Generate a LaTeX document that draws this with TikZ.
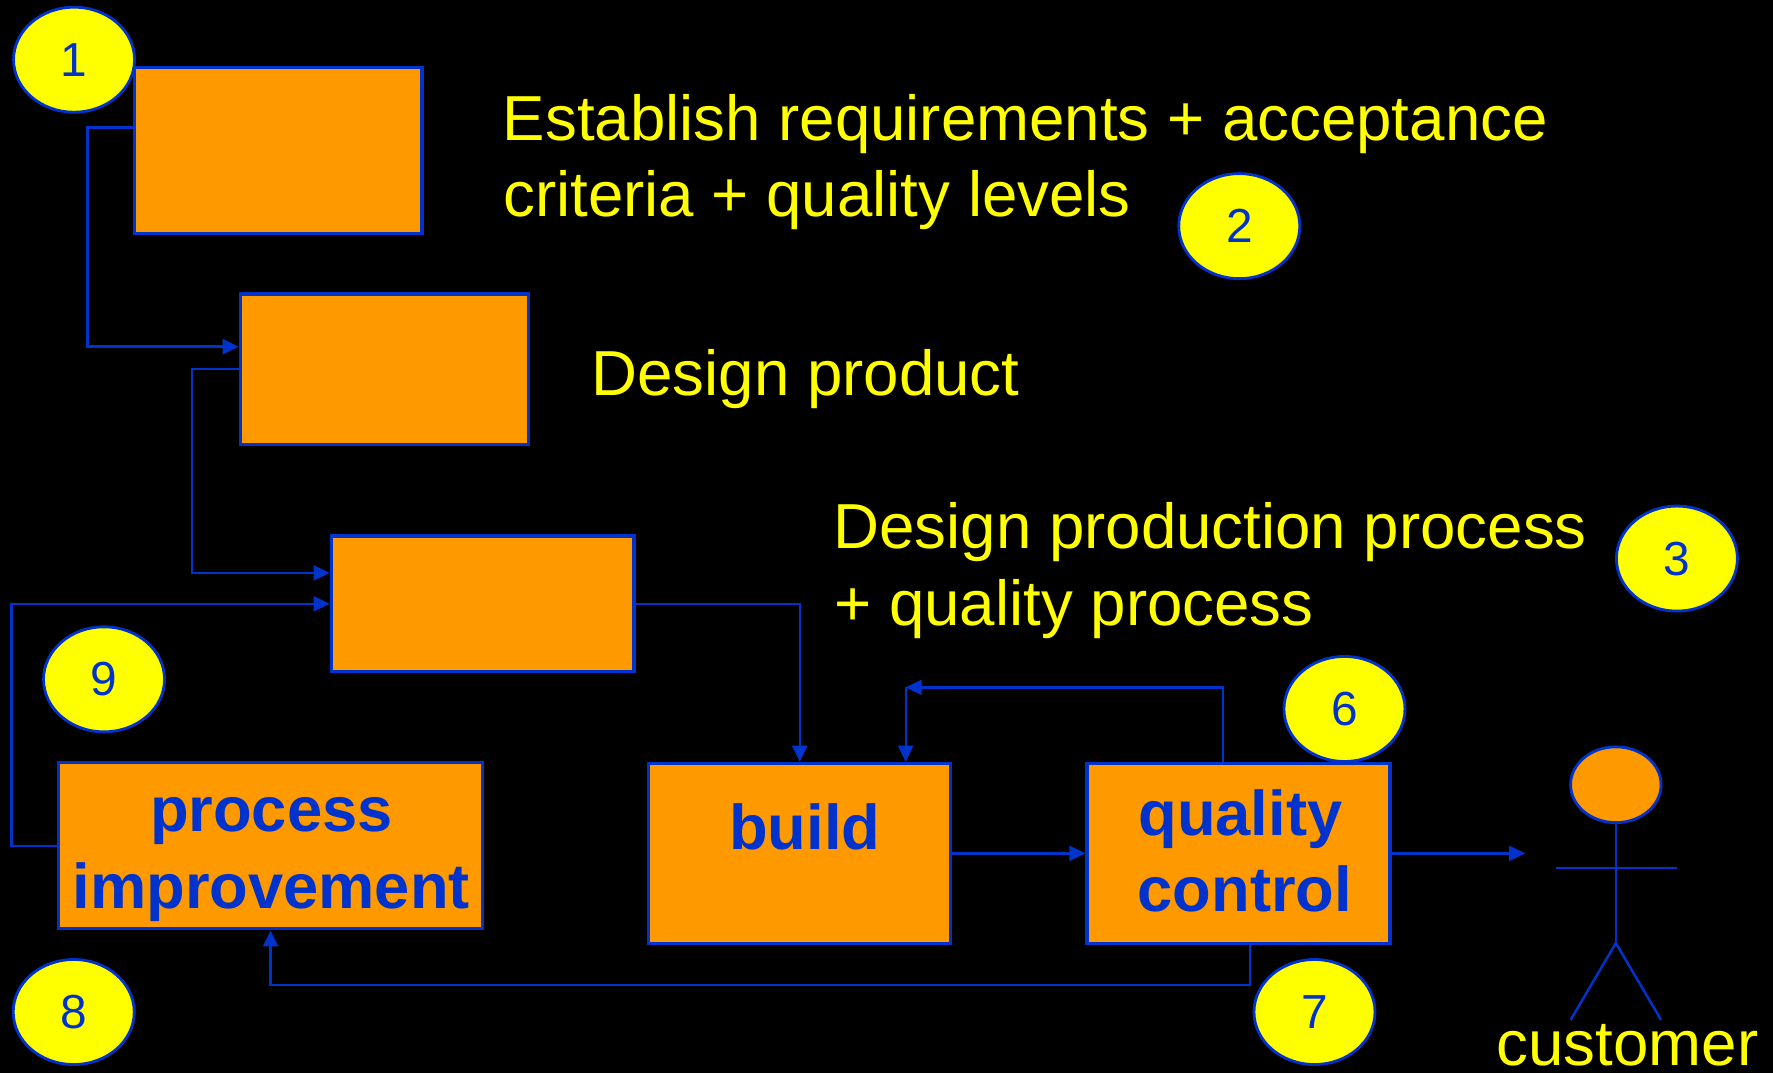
\documentclass[tikz,border=0pt]{standalone}
\usepackage{fontspec}
\setmainfont{Liberation Sans}
\usetikzlibrary{arrows.meta,shapes.geometric}
\definecolor{qorange}{HTML}{FF9900}
\definecolor{qblue}{HTML}{0033CC}
\definecolor{qyellow}{HTML}{FFFF00}
\tikzset{
	stepbox/.style={rectangle, draw=qblue, line width=0.9pt, fill=qorange, inner sep=0},
	flow/.style={draw=qblue, line width=0.7pt, -{Triangle[length=1.6mm,width=1.5mm]}},
	stick/.style={draw=qblue, line width=0.7pt},
	num/.style={ellipse, draw=qblue, line width=0.8pt, fill=qyellow, inner sep=0, minimum width=1.21cm, minimum height=1.05cm, text=qblue, font=\fontsize{13.6}{16}\selectfont},
	caption/.style={anchor=base west, inner sep=0, text=qyellow, font=\fontsize{18.1}{21.7}\selectfont},
	boxlabel/.style={anchor=base, inner sep=0, text=qblue, font=\fontsize{18}{21.6}\selectfont\bfseries}
}

\begin{document}
\begin{tikzpicture}[x=0.011307cm, y=-0.011307cm]
			%%%%% BACKGROUND %%%%%
			\fill[black] (0,0) rectangle (1568,949);
			\useasboundingbox (0,0) rectangle (1568,949);
			
			%%%%% BOXES %%%%%
			\node[stepbox, minimum width=2.873cm, minimum height=1.66cm] (reqbox) at (246.2,132.9) {};
			\node[stepbox, minimum width=2.878cm, minimum height=1.504cm] (designbox) at (339.8,326.5) {};
			\node[stepbox, minimum width=3.028cm, minimum height=1.357cm] (procbox) at (426.8,534) {};
			\node[stepbox, minimum width=4.245cm, minimum height=1.662cm] (pibox) at (239.3,748) {};
			\node[stepbox, minimum width=3.019cm, minimum height=1.801cm] (buildbox) at (707.3,754.7) {};
			\node[stepbox, minimum width=3.030cm, minimum height=1.798cm] (qcbox) at (1095.3,754.7) {};
			
			\node[boxlabel] (pi1) at (240,735.5) {process};
			\node[boxlabel] (pi2) at (239.8,803.4) {improvement};
			\node[boxlabel] (bl) at (711.8,751.7) {build};
			\node[boxlabel] (qc1) at (1097,738.5) {quality};
			\node[boxlabel] (qc2) at (1101,806.3) {control};
			
			%%%%% CAPTIONS %%%%%
			\node[caption] (req1) at (444,124) {Establish requirements + acceptance};
			\node[caption] (req2) at (444.4,191.6) {criteria + quality levels};
			\node[caption] (dsg) at (522.6,350) {Design product};
			\node[caption] (prod1) at (736.6,484.8) {Design production process};
			\node[caption] (prod2) at (737.3,552.8) {+ quality process};
			\node[caption] (cust) at (1323,942) {customer};
			
			%%%%% ARROWS %%%%%
			\coordinate (loopback) at (801,607.9);
			\coordinate (custarrow) at (1348.8,754.7);
			\draw[flow] (reqbox.west |- 0,112.9) -| (77.2,306.6) -- (designbox.west |- 0,306.6);
			\draw[flow] (designbox.west) -| (170,506.7) -- (procbox.west |- 0,506.7);
			\draw[flow] (pibox.west) -| (10,534) -- (procbox.west);
			\draw[flow] (procbox.east) -| (buildbox.north);
			\draw[flow] (qcbox.north -| 1081.6,0) |- (loopback);
			\draw[flow] (loopback) -- (buildbox.north -| loopback);
			\draw[flow] (buildbox.east) -- (qcbox.west);
			\draw[flow] (qcbox.east) -- (custarrow);
			\draw[flow] (qcbox.south -| 1105.3,0) |- (pibox.south |- 0,871) -- (pibox.south);
			
			%%%%% CUSTOMER %%%%%
			\node[ellipse, draw=qblue, line width=0.8pt, fill=qorange, inner sep=0, minimum width=0.905cm, minimum height=0.758cm] (custhead) at (1429,694) {};
			\coordinate (hip) at (1429,834);
			\draw[stick] (custhead.south) -- (hip);
			\draw[stick] (1376,767.7) -- (1482.8,767.7);
			\draw[stick] (1389,902) -- (hip) -- (1469,902);
			
			%%%%% NUMBERS %%%%%
			\node[num] (n1) at (65.5,52.8) {1};
			\node[num] (n2) at (1096,200) {2};
			\node[num] (n3) at (1483,494) {3};
			\node[num] (n6) at (1189,627) {6};
			\node[num] (n7) at (1162.5,895) {7};
			\node[num] (n8) at (65.2,895) {8};
			\node[num] (n9) at (92,600.8) {9};
\end{tikzpicture}
\end{document}
